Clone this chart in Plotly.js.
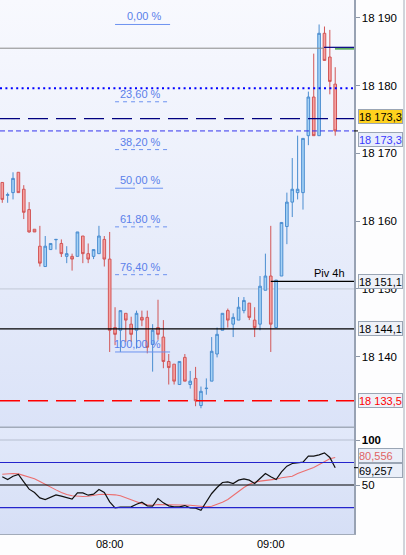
<!DOCTYPE html>
<html><head><meta charset="utf-8">
<script src="https://cdn.plot.ly/plotly-3.0.1.min.js"></script>
<style>
html,body{margin:0;padding:0;background:#fff;}
#chart{position:relative;width:406px;height:555px;
background:
 linear-gradient(#f8f9fe,#dbe3f8) 0 0/354px 427px no-repeat,
 linear-gradient(#e2e9fa,#d6dff6) 0 427px/354px 107px no-repeat,
 #fdfdfe;}
</style></head><body><div id="chart"></div>
<script>
const DAY = '2024-01-08 ';
const times = ['07:20','07:22','07:24','07:26','07:28','07:30','07:32','07:34','07:36','07:38',
 '07:40','07:42','07:44','07:46','07:48','07:50','07:52','07:54','07:56','07:58',
 '08:00','08:02','08:04','08:06','08:08','08:10','08:12','08:14','08:16','08:18',
 '08:20','08:22','08:24','08:26','08:28','08:30','08:32','08:34','08:36','08:38',
 '08:40','08:42','08:44','08:46','08:48','08:50','08:52','08:54','08:56','08:58',
 '09:00','09:02','09:04','09:06','09:08','09:10','09:12','09:14','09:16','09:18',
 '09:20','09:22','09:24'];
const open = [18165.7,18163.8,18164.2,18167.2,18164.7,18161.7,18158.8,18156.3,18153.3,18155.8,
 18157.25,18156.7,18154.8,18154.8,18154.8,18157.8,18155.2,18154.8,18155.2,18157.3,
 18154.4,18144.3,18143.9,18146.4,18144.8,18143.9,18145.8,18145.8,18141.8,18144.3,
 18142.9,18139.3,18138.9,18135.9,18139.9,18135.9,18136.8,18132.8,18135.3,18136.4,
 18140.4,18143.9,18146.8,18144.8,18145.4,18146.8,18147.9,18145.4,18144.8,18149.8,
 18151.9,18144.3,18151.9,18159.2,18162.8,18164.2,18164.2,18172.6,18178.3,18172.6,
 18187.7,18184.2,18180.2];
const high = [18165.7,18164.2,18167.2,18167.2,18165.3,18162.8,18158.8,18159.3,18157.8,18156.7,
 18157.3,18157.3,18156.3,18155.2,18158.4,18157.8,18156.7,18155.8,18159.3,18157.8,
 18158.4,18147.3,18146.8,18146.4,18145.9,18146.8,18146.8,18146.8,18144.8,18148.4,
 18145.4,18140.4,18138.9,18139.3,18140.4,18137.9,18138.5,18135.6,18136.8,18142.9,
 18144.3,18146.4,18147.1,18146.4,18148.8,18148.8,18147.9,18147.3,18151.9,18155.2,
 18159.3,18151.3,18159.8,18164.2,18169.3,18172.6,18172.2,18179.1,18184.7,18189.0,
 18188.7,18188.2,18182.7];
const low = [18162.7,18162.7,18163.2,18164.2,18160.3,18158.3,18158.4,18153.3,18153.3,18155.8,
 18155.8,18154.7,18153.8,18152.7,18154.8,18153.8,18153.8,18154.4,18155.2,18153.3,
 18140.7,18141.7,18140.7,18142.2,18142.2,18141.2,18144.5,18140.5,18137.8,18142.5,
 18138.3,18135.9,18135.9,18135.9,18136.4,18135.3,18132.7,18132.4,18134.4,18136.4,
 18139.9,18143.9,18144.3,18142.9,18145.4,18146.4,18145.4,18142.9,18143.9,18149.8,
 18140.7,18144.3,18151.9,18156.6,18160.6,18163.2,18161.7,18171.2,18172.6,18172.6,
 18183.7,18178.7,18172.6];
const close = [18163.2,18163.9,18166.3,18164.2,18161.3,18158.4,18158.4,18153.8,18156.3,18156.7,
 18157.3,18155.2,18155.2,18154.4,18158.4,18155.2,18154.4,18155.8,18157.8,18154.4,
 18143.9,18143.3,18146.8,18145.4,18143.3,18146.4,18145.4,18141.4,18143.9,18143.3,
 18139.3,18138.4,18136.4,18139.3,18136.4,18136.4,18133.5,18134.9,18135.35,18140.8,
 18143.3,18146.4,18145.4,18145.8,18147.3,18148.3,18145.8,18144.3,18150.4,18151.9,
 18144.8,18151.3,18159.8,18162.8,18164.7,18164.7,18172.2,18178.3,18172.6,18187.7,
 18183.7,18180.6,18173.3];
const stochK = [59.1,56.1,59.8,61.7,53.5,45.4,41.7,35.7,33.9,36.9,
 39.1,37.6,36.1,34.3,41.3,41.3,38.7,39.8,45.0,41.7,
 31.3,24.6,25.4,25.7,25.7,28.7,30.9,26.9,26.5,35.0,
 30.2,26.9,25.7,25.7,27.2,24.6,24.3,22.0,30.9,40.6,
 47.2,52.8,53.5,51.7,55.4,56.9,55.4,51.7,57.2,62.8,
 59.1,56.1,64.6,70.9,73.9,74.6,75.4,82.0,82.0,83.5,
 85.7,80.6,69.257];
const stochD = [62.0,62.8,62.8,62.4,60.6,59.1,56.9,53.9,50.6,48.0,
 44.6,41.7,39.4,38.0,37.2,37.2,37.6,38.7,39.4,39.8,
 39.8,39.1,38.0,35.7,33.1,30.9,29.1,28.0,27.6,28.3,
 28.3,28.3,28.3,28.3,28.3,27.6,26.9,26.1,25.7,26.5,
 28.3,30.9,33.9,38.3,43.5,47.2,50.9,53.1,54.3,55.0,
 55.4,56.5,58.0,58.7,59.8,62.8,65.4,67.2,69.4,72.8,
 76.5,79.1,80.556];
const priceTicks = [18140,18150,18160,18170,18180,18190];
const stochTicks = [50,100];
const stochTickText = ['50','<b>100</b>'];
const timeTicks = ['08:00','09:00'];
const fibHigh = 18189.0, fibLow = 18140.7;
const fibPct = [0,23.6,38.2,50,61.8,76.4,100];
const fibText = ['0,00 %','23,60 %','38,20 %','50,00 %','61,80 %','76,40 %','100,00 %'];
const fibDash = ['solid','4px,4px','4px,4px','20px,8px','4px,4px','4px,4px','solid'];
const lastPrice = 18173.3, quoteLevel = 18175.1, dotLevel = 18179.6, topLevel = 18185.5;
const pivot4h = 18151.1, support = 18144.1, dayLow = 18133.5, gridLevel = 18150;
const labelText = {quote:'18 173,3', last:'18 173,3', pivot:'18 151,1', support:'18 144,1', low:'18 133,5', d:'80,556', k:'69,257'};
const stochLevels = {top:100, hi:75, mid:50, lo:25};

const X0 = DAY + '07:19:09', X1 = DAY + '09:31:00';
const x = times.map(t => DAY + t);
const FONT = 'Liberation Sans, Arial, sans-serif';

const traces = [
 {type:'candlestick', x:x, open:open, high:high, low:low, close:close, xaxis:'x', yaxis:'y',
  hoverinfo:'skip', whiskerwidth:0,
  increasing:{line:{color:'#4a8dd0', width:1}, fillcolor:'#a5d2f6'},
  decreasing:{line:{color:'#d25656', width:1}, fillcolor:'#f6a2a2'}},
 {type:'scatter', mode:'lines', x:x, y:stochD, xaxis:'x', yaxis:'y2', hoverinfo:'skip',
  line:{color:'#ec6f6f', width:1.1}},
 {type:'scatter', mode:'lines', x:x, y:stochK, xaxis:'x', yaxis:'y2', hoverinfo:'skip',
  line:{color:'#111111', width:1.2}}
];

const shapes = [];
function hl(y, color, width, dash, opts) {
  opts = opts || {};
  shapes.push(Object.assign({type:'line', xref:'paper', x0:0, x1:1, yref:'y', y0:y, y1:y,
    line:{color:color, width:width, dash:dash}}, opts));
}
hl(gridLevel, '#c3c9d6', 1, 'solid', {layer:'below'});
hl(topLevel, '#8a8a8a', 1, 'solid', {xref:'x', x0:X0, x1:DAY+'09:19:50'});
hl(topLevel+0.13, '#000080', 1.2, 'solid', {xref:'x', x0:DAY+'09:19:50', x1:X1});
hl(topLevel-0.1, '#1e8c1e', 1.2, 'solid', {xref:'x', x0:DAY+'09:23:54', x1:X1});
hl(dotLevel, '#0000ff', 2, '2px,3.4px');
hl(quoteLevel, '#000080', 1.3, '20px,8px');
hl(lastPrice, '#3434ee', 1, '5px,3px');
hl(pivot4h, '#000000', 1.3, 'solid', {xref:'x', x0:DAY+'09:00', x1:X1});
hl(support, '#000000', 1.2, 'solid');
hl(dayLow, '#ff0000', 1.5, '20px,8px');
fibPct.forEach((p,i) => {
  const v = fibHigh - (fibHigh - fibLow) * p / 100;
  hl(v, '#6d92f0', 1, fibDash[i], {xref:'x', x0:DAY+'08:02', x1:DAY+'08:22:30'});
});
hl(stochLevels.top, '#b6bfd0', 1, 'solid', {yref:'y2'});
hl(stochLevels.hi, '#2424cc', 1.2, 'solid', {yref:'y2'});
hl(stochLevels.mid, '#000000', 1.2, 'solid', {yref:'y2'});
hl(stochLevels.lo, '#2424cc', 1.2, 'solid', {yref:'y2'});
const split = 1 - 427.3/534;
shapes.push({type:'line', xref:'paper', yref:'paper', x0:0, x1:1, y0:split, y1:split, line:{color:'#a2abba', width:1.5}});
shapes.push({type:'line', xref:'paper', yref:'paper', x0:404/354, x1:404/354, y0:-21/534, y1:1, line:{color:'#a4acb8', width:1}});
shapes.push({type:'line', xref:'paper', yref:'y', x0:1, x1:1+4/354, y0:lastPrice, y1:lastPrice, line:{color:'#000', width:1}});
shapes.push({type:'line', xref:'paper', yref:'y2', x0:1, x1:1+4/354, y0:stochK[stochK.length-1], y1:stochK[stochK.length-1], line:{color:'#000', width:1}});

const annotations = [];
fibPct.forEach((p,i) => {
  const v = fibHigh - (fibHigh - fibLow) * p / 100;
  annotations.push({xref:'x', yref:'y', x:DAY+'08:19:51', y:v, xanchor:'right', yanchor:'bottom',
    yshift:0, showarrow:false, text:fibText[i], font:{family:FONT, size:11, color:'#5a80ea'}});
});
function box(yref, y, yshift, text, fg, bg) {
  annotations.push({xref:'paper', x:1, xanchor:'left', xshift:4, yref:yref, y:y, yanchor:'middle', yshift:yshift,
    showarrow:false, text:text, align:'left', width:43, height:13, borderpad:0, borderwidth:1,
    bordercolor:'#9aa5b4', bgcolor:bg, font:{family:FONT, size:11, color:fg}});
}
box('y', quoteLevel, 2.5, labelText.quote, '#000000', '#ffd21e');
box('y', lastPrice, -8.5, labelText.last, '#3a3aff', '#e8edfb');
box('y', pivot4h, 0, labelText.pivot, '#000000', '#eef1f8');
box('y', support, 0, labelText.support, '#000000', '#eef1f8');
box('y', dayLow, 0, labelText.low, '#ff0000', '#eef1f8');
box('y2', stochD[stochD.length-1], 2, labelText.d, '#e06464', '#eaeff9');
box('y2', stochK[stochK.length-1], -2.6, labelText.k, '#000000', '#eaeff9');
annotations.push({xref:'paper', x:347/354, xanchor:'right', yref:'y', y:pivot4h, yanchor:'bottom', yshift:0,
  showarrow:false, text:'Piv 4h', font:{family:FONT, size:11, color:'#000'}});

const layout = {
  width:406, height:555,
  margin:{l:0, r:52, t:0, b:21, pad:0},
  paper_bgcolor:'rgba(0,0,0,0)', plot_bgcolor:'rgba(0,0,0,0)',
  showlegend:false, separators:', ', boxgap:0.3,
  font:{family:FONT, size:11, color:'#000'},
  xaxis:{type:'date', range:[X0, X1], anchor:'y2', showgrid:false, zeroline:false,
    tickvals:timeTicks.map(t => DAY + t), ticktext:timeTicks, ticks:'',
    showline:true, linecolor:'#a2abba', linewidth:1, rangeslider:{visible:false},
    tickfont:{family:FONT, size:11, color:'#000'}},
  yaxis:{domain:[split,1], side:'right', range:[18129.59, 18192.61], tickvals:priceTicks,
    tickformat:',.0f', ticks:'outside', ticklen:4, tickcolor:'#8e98a8', showgrid:false, zeroline:false,
    showline:true, linecolor:'#98a2b3', linewidth:1.5, tickfont:{family:FONT, size:11.5, color:'#000'}},
  yaxis2:{domain:[0,split], side:'right', range:[-4.4, 114.1], tickvals:stochTicks, ticktext:stochTickText,
    ticks:'outside', ticklen:4, tickcolor:'#8e98a8', showgrid:false, zeroline:false,
    showline:true, linecolor:'#98a2b3', linewidth:1.5, tickfont:{family:FONT, size:11.5, color:'#000'}},
  shapes:shapes, annotations:annotations
};
Plotly.newPlot('chart', traces, layout, {staticPlot:true, displayModeBar:false});
</script></body></html>
